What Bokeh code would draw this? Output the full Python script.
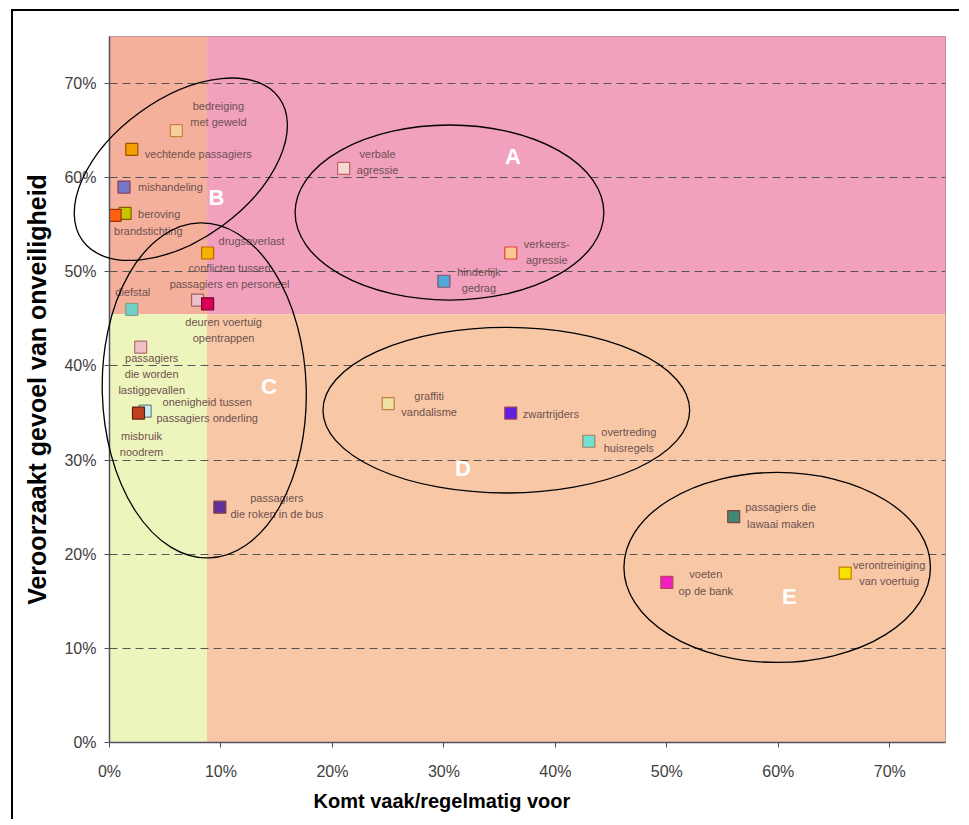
import math
from bokeh.plotting import figure
from bokeh.models import Range1d, PrintfTickFormatter, FixedTicker, ColumnDataSource, Title
from bokeh.core.properties import value
from bokeh.embed import file_html
from bokeh.resources import INLINE

# ---------------- data ----------------
labels = [
    "bedreiging\nmet geweld",
    "vechtende passagiers",
    "mishandeling",
    "beroving",
    "brandstichting",
    "drugsoverlast",
    "conflicten tussen\npassagiers en personeel",
    "deuren voertuig\nopentrappen",
    "diefstal",
    "passagiers\ndie worden\nlastiggevallen",
    "onenigheid tussen\npassagiers onderling",
    "misbruik\nnoodrem",
    "passagiers\ndie roken in de bus",
    "verbale\nagressie",
    "verkeers-\nagressie",
    "hinderlijk\ngedrag",
    "graffiti\nvandalisme",
    "zwartrijders",
    "overtreding\nhuisregels",
    "passagiers die\nlawaai maken",
    "voeten\nop de bank",
    "verontreiniging\nvan voertuig",
]
# "Komt vaak/regelmatig voor" (%)
frequency = [6.0, 2.0, 1.3, 1.4, 0.5, 8.8, 7.9, 8.8, 2.0, 2.8, 3.2, 2.6, 9.9,
             21.0, 36.0, 30.0, 25.0, 36.0, 43.0, 56.0, 50.0, 66.0]
# "Veroorzaakt gevoel van onveiligheid" (%)
unsafety = [65.0, 63.0, 59.0, 56.2, 56.0, 52.0, 47.0, 46.6, 46.0, 42.0, 35.2, 35.0, 25.0,
            61.0, 52.0, 49.0, 36.0, 35.0, 32.0, 24.0, 17.0, 18.0]

x_ticks = [0, 10, 20, 30, 40, 50, 60, 70]
y_ticks = [0, 10, 20, 30, 40, 50, 60, 70]
axis_max = 75

x_title = "Komt vaak/regelmatig voor"
y_title = "Veroorzaakt gevoel van onveiligheid"

# quadrant split thresholds (%)
split_x = 8.75
split_y = 45.5

# clusters
groups = ["A", "B", "C", "D", "E"]
group_cx = [30.5, 6.4, 8.5, 35.6, 59.9]
group_cy = [56.3, 60.9, 37.4, 35.3, 18.6]
group_w = [27.7, 21.8, 18.3, 32.9, 27.5]
group_h = [18.6, 14.9, 35.6, 17.6, 20.2]
group_angle_deg = [0, 36, 1.5, 0, 0]
letter_x = [36.2, 9.6, 14.3, 31.7, 61.0]
letter_y = [62.2, 57.9, 37.8, 29.1, 15.5]

# ---------------- styles ----------------
fill_colors = ["#F6CFA0", "#F5A000", "#7878C8", "#C8C400", "#FF6010", "#F5B400",
               "#EEC0C8", "#DC0058", "#70D0C8", "#EEC0C8", "#C4F0F8", "#C04020",
               "#603098", "#F6D8D0", "#F8C890", "#50A8D8", "#EEE0A0", "#6020E0",
               "#70E0D0", "#408870", "#F020C0", "#F8E000"]
line_colors = ["#D08040", "#A05000", "#804060", "#806000", "#A03000", "#C06000",
               "#A06060", "#800030", "#80A080", "#B07070", "#708080", "#602010",
               "#804040", "#C06060", "#E04040", "#805070", "#C08040", "#A04060",
               "#A08060", "#804040", "#C04060", "#C08000"]
label_dx = [42, 13, 14, 13, -1, 11, 32, 16, 1, 11, 62, 3, 57,
            34, 36, 35, 41, 12, 40, 47, 39, 44]
label_dy = [-17, 5, 0, 1, 16, -12, -24, 26, -17, 27, -1, 31, -1,
            -6, -1, -1, 0, 1, -1, -1, 0, 0]
label_align = ["center", "left", "left", "left", "left", "left", "center", "center",
               "center", "center", "center", "center", "center", "center", "center",
               "center", "center", "left", "center", "center", "center", "center"]

region_left = [0, split_x, 0, split_x]
region_right = [split_x, axis_max, split_x, axis_max]
region_bottom = [split_y, split_y, 0, 0]
region_top = [axis_max, axis_max, split_y, split_y]
region_colors = ["#F5B09C", "#F1A0BE", "#EEF5BC", "#F8C8A6"]

FONT = "Liberation Sans"

p = figure(width=948, height=810, output_backend="svg", toolbar_location=None,
           x_range=Range1d(0, axis_max), y_range=Range1d(0, axis_max),
           min_border_left=96, min_border_top=25, min_border_right=16, min_border_bottom=79,
           background_fill_color="white", border_fill_color="white")
p.margin = (9, 0, 0, 11)
p.styles = {"border-left": "2px solid black", "border-top": "2px solid black"}
p.outline_line_color = "#B09090"
p.outline_line_width = 1

# background quadrants
p.quad(left=region_left, right=region_right, bottom=region_bottom, top=region_top,
       fill_color=region_colors, line_color=None, level="image")

# grid
p.xgrid.visible = False
p.ygrid.ticker = FixedTicker(ticks=y_ticks[1:])
p.ygrid.grid_line_color = "#555555"
p.ygrid.grid_line_dash = "8 5"
p.ygrid.grid_line_width = 1

# axes
for ax, ticks in ((p.xaxis[0], x_ticks), (p.yaxis[0], y_ticks)):
    ax.ticker = FixedTicker(ticks=ticks)
    ax.formatter = PrintfTickFormatter(format="%d%%")
    ax.major_tick_in = 0
    ax.major_tick_out = 5
    ax.minor_tick_line_color = None
    ax.axis_line_color = "#505060"
    ax.axis_line_width = 1.5
    ax.major_tick_line_color = "#505060"
    ax.major_label_text_font = FONT
    ax.major_label_text_font_size = "16px"
    ax.major_label_text_color = "#404040"
    ax.axis_label_text_font = FONT
    ax.axis_label_text_font_style = "bold"
    ax.axis_label_text_color = "black"

p.xaxis.major_label_standoff = 15
p.yaxis.axis_label = y_title
p.yaxis.axis_label_text_font_size = "25px"
p.yaxis.major_label_standoff = 8
p.yaxis.axis_label_standoff = 10

# x-axis title (sits left of centre in the original)
p.add_layout(Title(text=x_title, align="left", offset=204, standoff=11,
                   text_font=FONT, text_font_size="20px", text_font_style="bold",
                   text_color="black"), "below")

# cluster ellipses (drawn on the overlay level so they may pass the frame edge)
p.ellipse(x=group_cx, y=group_cy, width=group_w, height=group_h,
          angle=[math.radians(a) for a in group_angle_deg],
          fill_color=None, line_color="black", line_width=1.3, level="overlay")

# points
src = ColumnDataSource(dict(x=frequency, y=unsafety, fill=fill_colors, line=line_colors,
                            label=labels, dx=label_dx, dy=label_dy, align=label_align))
p.scatter("x", "y", source=src, marker="square", size=12,
          fill_color="fill", line_color="line", line_width=1.2)
p.text("x", "y", text="label", source=src, x_offset="dx", y_offset="dy",
       text_align="align", text_baseline="middle",
       text_font=value(FONT), text_font_size="11px", text_color="#6E5050",
       text_line_height=1.35)

# cluster letters
p.text(x=letter_x, y=letter_y, text=groups, text_align="center", text_baseline="middle",
       text_font=value(FONT), text_font_size="22px", text_font_style="bold",
       text_color="white")

open("out.html", "w").write(file_html(p, INLINE))
